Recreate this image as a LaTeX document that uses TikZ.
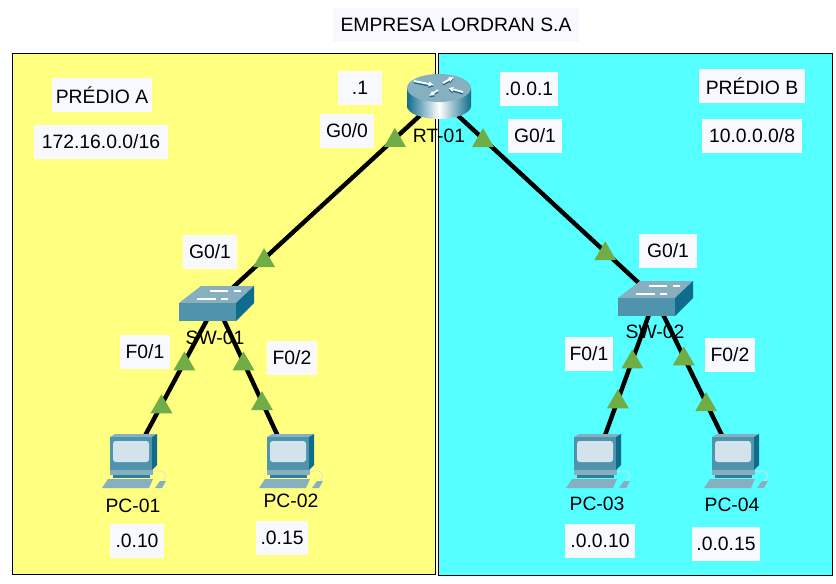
\documentclass[tikz,border=0pt]{standalone}
\usepackage{fontspec}
\setmainfont{Liberation Sans}
\usetikzlibrary{positioning,shapes.geometric,arrows.meta}
\definecolor{predioa}{HTML}{FFFF80}
\definecolor{prediob}{HTML}{55FFFF}
\definecolor{lblfill}{HTML}{F8F8FF}
\definecolor{linkgreen}{HTML}{70AD47}
\definecolor{devtop}{HTML}{86AFC0}
\definecolor{devfront}{HTML}{4F93AC}
\definecolor{devside}{HTML}{0F6C8C}
\definecolor{devdark}{HTML}{2F7F99}
\definecolor{screen}{HTML}{D3E3EC}
\tikzset{
  region/.style={draw=black, line width=0.7pt},
  lbl/.style={fill=lblfill, font=\fontsize{14.5}{16}\selectfont, inner sep=0pt, minimum height=26pt},
  devlabel/.style={font=\fontsize{14.5}{16}\selectfont, inner sep=0pt},
  devnode/.style={inner sep=0pt, minimum size=0pt},
  link/.style={draw=black, line width=3.3pt},
  updot/.style={regular polygon, regular polygon sides=3, fill=linkgreen, inner sep=0pt, minimum size=19pt, yshift=-1.5pt},
  rtarrow/.style={-{Latex[length=4pt,width=4pt]}, line width=1.4pt},
  router/.pic={
    \shade[left color=devside, right color=devside, middle color=white]
      (-32,-10) -- (-32,8) arc[x radius=32, y radius=13, start angle=180, end angle=0] -- (32,-10) -- cycle;
    \fill[devtop] (0,-10) ellipse[x radius=32, y radius=14];
    \foreach \xa/\ya/\xb/\yb in {-25/-17/-5/-13, 4/-15/15/-21, -1/-8/-10/-2, 24/-6/9/-10} {
      \draw[rtarrow, devside] (\xa,\ya+1.5) -- (\xb,\yb+1.5);
      \draw[rtarrow, white] (\xa,\ya) -- (\xb,\yb);
    }
  },
  switchbox/.pic={
    \fill[devtop] (-37,0) -- (-15,-17) -- (38,-17) -- (20,0) -- cycle;
    \fill[devfront] (-37,0) rectangle (20,18);
    \fill[devside] (20,0) -- (38,-17) -- (38,0) -- (20,18) -- cycle;
    \draw[white, line width=1.2pt] (-19,-4) -- (0,-4) (-6,-12) -- (12,-12) (5,-4) -- (12,-4) (18,-12) -- (25,-12);
  },
  pcbox/.pic={
    \fill[devtop] (-22,-23) -- (-17,-26) -- (25,-26) -- (20,-23) -- cycle;
    \fill[devside] (20,-23) -- (25,-26) -- (25,5) -- (20,10) -- cycle;
    \fill[devfront] (-22,-23) rectangle (20,10);
    \fill[screen, rounded corners=2pt] (-19,-19) rectangle (17,2);
    \fill[devtop] (-22,10) rectangle (21,15);
    \fill[devdark] (-19,15) rectangle (18,18);
    \fill[devtop] (-30,28) -- (-24,19) -- (21,19) -- (17,28) -- cycle;
    \fill[devtop] (23,28) -- (28,21) -- (34,21) -- (30,28) -- cycle;
    \draw[screen, line width=0.5pt] (21,12) .. controls (30,8) and (38,14) .. (31,21);
  },
}
\begin{document}
\begin{tikzpicture}[x=0.75pt, y=-0.75pt]
\useasboundingbox (0,0) rectangle (836,583);
%Regions
\fill[white] (0,0) rectangle (836,583);
\draw[region, fill=predioa] (12,53) rectangle (435,574);
\draw[region, fill=prediob] (438,53) rectangle (832,575);

%Labels
\node[lbl, minimum width=185pt] (title) at (456,25) {EMPRESA LORDRAN S.A};
\node[lbl, minimum width=75pt] (nameA) at (102,95) {PRÉDIO A};
\node[lbl, minimum width=100pt] (netA) at (101,142) {172.16.0.0/16};
\node[lbl, minimum width=33pt] (ipRT0) at (360,88) {.1};
\node[lbl, minimum width=40pt] (portRT0) at (347,131) {G0/0};
\node[lbl, minimum width=44pt] (ipRT1) at (529,89) {.0.0.1};
\node[lbl, minimum width=41pt] (portRT1) at (535,136) {G0/1};
\node[lbl, minimum width=80pt] (nameB) at (752,86) {PRÉDIO B};
\node[lbl, minimum width=75pt] (netB) at (752,136) {10.0.0.0/8};
\node[lbl, minimum width=40pt] (portSW1) at (210,252) {G0/1};
\node[lbl, minimum width=44pt] (portSW2) at (668,251) {G0/1};
\node[lbl, minimum width=38pt] (portPC1) at (145,352) {F0/1};
\node[lbl, minimum width=38pt] (portPC2) at (292,358) {F0/2};
\node[lbl, minimum width=36pt] (portPC3) at (589,354) {F0/1};
\node[lbl, minimum width=38pt] (portPC4) at (730,355) {F0/2};
\node[lbl, minimum width=40pt] (ipPC1) at (137,541) {.0.10};
\node[lbl, minimum width=39pt] (ipPC2) at (282,538) {.0.15};
\node[lbl, minimum width=52pt] (ipPC3) at (600,541) {.0.0.10};
\node[lbl, minimum width=51pt] (ipPC4) at (726,544) {.0.0.15};

%Nodes
\node[devnode] (rt01) at (439,98) {};
\node[devnode] (sw01) at (216,303) {};
\node[devnode] (sw02) at (655,298) {};
\node[devnode] (pc01) at (132,460) {};
\node[devnode] (pc02) at (289,460) {};
\node[devnode] (pc03) at (596,460) {};
\node[devnode] (pc04) at (734,460) {};

%Lines
\draw[link] (rt01) -- (sw01) node[updot, pos=.197] {} node[updot, pos=.785] {};
\draw[link] (rt01) -- (sw02) node[updot, pos=.203] {} node[updot, pos=.77] {};
\draw[link] (sw01) -- (pc01) node[updot, pos=.376] {} node[updot, pos=.65] {};
\draw[link] (sw01) -- (pc02) node[updot, pos=.376] {} node[updot, pos=.63] {};
\draw[link] (sw02) -- (pc03) node[updot, pos=.383] {} node[updot, pos=.63] {};
\draw[link] (sw02) -- (pc04) node[updot, pos=.364] {} node[updot, pos=.648] {};

%Devices
\pic at (rt01) {router};
\pic at (sw01) {switchbox};
\pic at (sw02) {switchbox};
\pic at (pc01) {pcbox};
\pic at (pc02) {pcbox};
\pic at (pc03) {pcbox};
\pic at (pc04) {pcbox};

\node[devlabel] (rtname) at (439,136) {RT-01};
\node[devlabel] (swname1) at (215,338) {SW-01};
\node[devlabel] (swname2) at (655,332) {SW-02};
\node[devlabel] (pcname1) at (133,506) {PC-01};
\node[devlabel] (pcname2) at (291,501) {PC-02};
\node[devlabel] (pcname3) at (597,504) {PC-03};
\node[devlabel] (pcname4) at (732,505) {PC-04};
\end{tikzpicture}
\end{document}
